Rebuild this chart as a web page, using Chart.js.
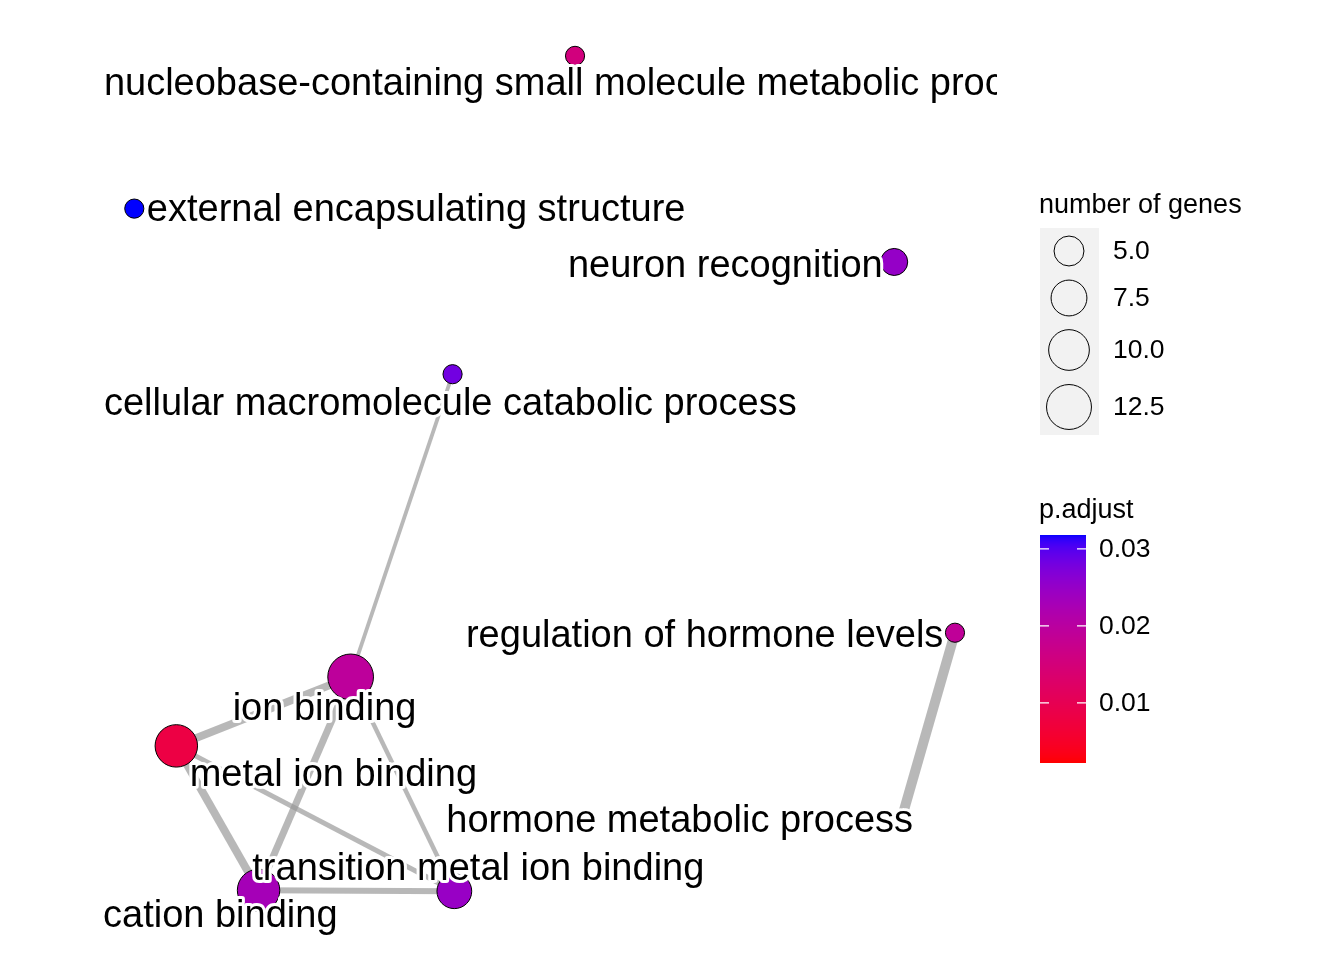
<!DOCTYPE html>
<html>
<head>
<meta charset="utf-8">
<script src="https://cdn.jsdelivr.net/npm/chart.js@4"></script>
<style>
  html, body { margin: 0; padding: 0; background: #ffffff; }
  #wrap { width: 1344px; height: 960px; }
</style>
</head>
<body>
<div id="wrap"><canvas id="c" width="1344" height="960"></canvas></div>
<script>
// ---------------- data ----------------
const terms = [
  "nucleobase-containing small molecule metabolic process",
  "external encapsulating structure",
  "neuron recognition",
  "cellular macromolecule catabolic process",
  "regulation of hormone levels",
  "ion binding",
  "metal ion binding",
  "hormone metabolic process",
  "transition metal ion binding",
  "cation binding"
];
// network layout coordinates (0-100 panel units)
const nodeX = [52.8, 3.5, 88.5, 39.1, 95.3, 27.7, 8.2, 89.5, 39.3, 17.4];
const nodeY = [96.1, 79.5, 73.7, 61.5, 33.4, 28.6, 21.1, 13.8, 5.3, 5.4];
const geneCount = [2, 2, 4, 2, 2, 13, 11, 1, 7, 11];
const pAdjust = [0.0155, 0.0318, 0.025, 0.0282, 0.019, 0.0194, 0.0081, 0.0022, 0.0247, 0.023];
// repelled label anchors (left edge, baseline) in panel units
const labelX = [0.1, 4.9, 52.0, 0.1, 40.6, 14.5, 9.7, 38.4, 16.7, 0.0];
const labelY = [91.8, 78.2, 72.1, 57.1, 31.8, 23.9, 16.7, 11.7, 6.5, 1.4];
// edges (indices into terms) and similarity widths
const edgeFrom  = [3, 5, 5, 5, 6, 6, 9, 4];
const edgeTo    = [5, 6, 9, 8, 9, 8, 8, 7];
const edgeWidth = [3.8, 8, 7, 4.5, 8, 5, 6, 10];
const sizeBreaks = [5, 7.5, 10, 12.5];
const sizeBreakLabels = ["5.0", "7.5", "10.0", "12.5"];
const colorBreaks = [0.01, 0.02, 0.03];
const colorBreakLabels = ["0.01", "0.02", "0.03"];

// ---------------- scales ----------------
const FONT = "'Liberation Sans', Arial, Helvetica, sans-serif";
const cMin = Math.min(...geneCount), cMax = Math.max(...geneCount);
const dMin = 9.4, dMax = 46.7;
function diameter(n) { return dMin + (dMax - dMin) * Math.sqrt((n - cMin) / (cMax - cMin)); }
const pMin = Math.min(...pAdjust), pMax = Math.max(...pAdjust);

function toLin(c){ c/=255; return c<=0.04045? c/12.92 : Math.pow((c+0.055)/1.055,2.4); }
function toS(c){ c = c<=0.0031308? 12.92*c : 1.055*Math.pow(c,1/2.4)-0.055; return Math.round(Math.max(0,Math.min(1,c))*255); }
function rgb2lab(r,g,b){
  r=toLin(r); g=toLin(g); b=toLin(b);
  let X=(0.4124*r+0.3576*g+0.1805*b)/0.95047, Y=(0.2126*r+0.7152*g+0.0722*b), Z=(0.0193*r+0.1192*g+0.9505*b)/1.08883;
  const f=t=>t>0.008856?Math.cbrt(t):7.787*t+16/116;
  const fx=f(X), fy=f(Y), fz=f(Z);
  return [116*fy-16, 500*(fx-fy), 200*(fy-fz)];
}
function lab2rgb(L,a,b){
  const fy=(L+16)/116, fx=fy+a/500, fz=fy-b/200;
  const fi=t=>{const t3=t*t*t; return t3>0.008856?t3:(t-16/116)/7.787;};
  const X=fi(fx)*0.95047, Y=fi(fy), Z=fi(fz)*1.08883;
  const r= 3.2406*X-1.5372*Y-0.4986*Z, g=-0.9689*X+1.8758*Y+0.0415*Z, bb=0.0557*X-0.2040*Y+1.0570*Z;
  return `rgb(${toS(r)},${toS(g)},${toS(bb)})`;
}
const labLow = rgb2lab(255,0,0), labHigh = rgb2lab(0,0,255);
function colorAt(t){ t=Math.max(0,Math.min(1,t));
  return lab2rgb(labLow[0]+(labHigh[0]-labLow[0])*t, labLow[1]+(labHigh[1]-labLow[1])*t, labLow[2]+(labHigh[2]-labLow[2])*t); }
function pColor(p){ return colorAt((p-pMin)/(pMax-pMin)); }

// ---------------- datasets ----------------
const datasets = [];
datasets.push({
  type: 'scatter', order: 0,
  data: nodeX.map((x,i)=>({x:x, y:nodeY[i]})),
  pointRadius: geneCount.map(n=>diameter(n)/2 - 0.5),
  pointHoverRadius: geneCount.map(n=>diameter(n)/2 - 0.5),
  pointBackgroundColor: pAdjust.map(pColor),
  pointBorderColor: '#000000',
  pointBorderWidth: 1
});
edgeFrom.forEach((a,k)=>{
  const b = edgeTo[k];
  datasets.push({
    type: 'line', order: 1,
    data: [{x:nodeX[a], y:nodeY[a]}, {x:nodeX[b], y:nodeY[b]}],
    borderColor: 'rgba(150,150,150,0.68)',
    borderWidth: edgeWidth[k],
    pointRadius: 0, fill: false, tension: 0
  });
});

// ---------------- plugins: labels + legends ----------------
const overlay = {
  id: 'overlay',
  afterDatasetsDraw(chart){
    const ctx = chart.ctx, xs = chart.scales.x, ys = chart.scales.y, ca = chart.chartArea;
    ctx.save();
    ctx.beginPath(); ctx.rect(ca.left, ca.top, ca.right-ca.left, ca.bottom-ca.top); ctx.clip();
    ctx.font = `38px ${FONT}`;
    ctx.textAlign = 'left'; ctx.textBaseline = 'alphabetic';
    ctx.lineJoin = 'round';
    terms.forEach((t,i)=>{
      const px = xs.getPixelForValue(labelX[i]), py = ys.getPixelForValue(labelY[i]);
      ctx.strokeStyle = '#ffffff'; ctx.lineWidth = 6; ctx.strokeText(t, px, py);
      ctx.fillStyle = '#000000'; ctx.fillText(t, px, py);
    });
    ctx.restore();

    // size legend
    ctx.save();
    ctx.fillStyle = '#000';
    ctx.font = `27px ${FONT}`; ctx.textBaseline = 'alphabetic'; ctx.textAlign='left';
    ctx.fillText('number of genes', 1039, 213);
    ctx.fillStyle = '#F2F2F2';
    ctx.fillRect(1040, 228, 59, 207);
    const cy = [251, 298, 350, 407];
    ctx.font = `26.5px ${FONT}`; ctx.textBaseline = 'middle';
    sizeBreaks.forEach((s,i)=>{
      const r = diameter(s)/2 - 0.5;
      ctx.beginPath(); ctx.arc(1069, cy[i], r, 0, Math.PI*2);
      ctx.strokeStyle = '#000'; ctx.lineWidth = 1; ctx.stroke();
      ctx.fillStyle = '#000'; ctx.fillText(sizeBreakLabels[i], 1113, cy[i]+1);
    });

    // colour bar
    ctx.textBaseline = 'alphabetic';
    ctx.font = `27px ${FONT}`;
    ctx.fillText('p.adjust', 1039, 518);
    const bx = 1040, bw = 46, bTop = 535, bBot = 763;
    for (let y = bTop; y < bBot; y++) {
      const t = (bBot - (y+0.5)) / (bBot - bTop);
      ctx.fillStyle = colorAt(t);
      ctx.fillRect(bx, y, bw, 1);
    }
    ctx.font = `26.5px ${FONT}`; ctx.textBaseline = 'middle';
    colorBreaks.forEach((p,i)=>{
      const y = bBot - (p - pMin)/(pMax - pMin)*(bBot - bTop);
      ctx.strokeStyle = '#ffffff'; ctx.lineWidth = 1.2;
      ctx.beginPath(); ctx.moveTo(bx, y); ctx.lineTo(bx+9, y); ctx.moveTo(bx+bw-9, y); ctx.lineTo(bx+bw, y); ctx.stroke();
      ctx.fillStyle = '#000'; ctx.fillText(colorBreakLabels[i], 1099, y+1);
    });
    ctx.restore();
  }
};

new Chart(document.getElementById('c'), {
  type: 'scatter',
  data: { datasets },
  options: {
    responsive: false, animation: false, devicePixelRatio: 1,
    layout: { autoPadding: false, padding: { left: 103, right: 347, top: 20, bottom: 20 } },
    plugins: { legend: { display: false }, tooltip: { enabled: false } },
    scales: {
      x: { type: 'linear', min: 0, max: 100, display: false },
      y: { type: 'linear', min: 0, max: 100, display: false }
    }
  },
  plugins: [overlay]
});
</script>
</body>
</html>
